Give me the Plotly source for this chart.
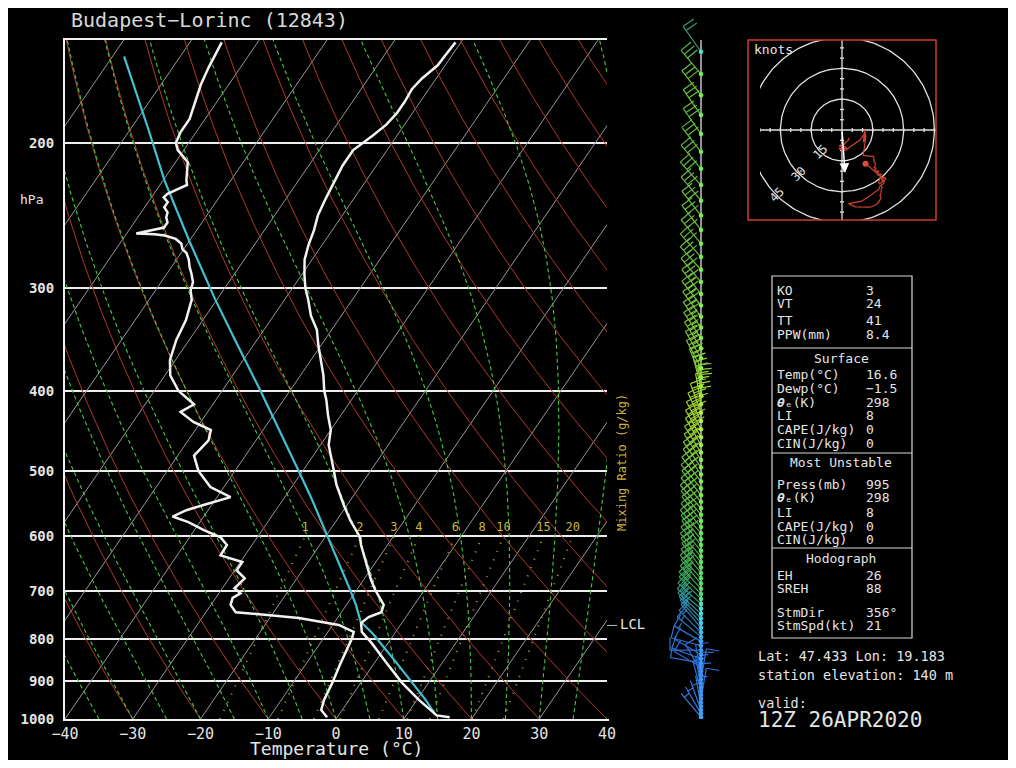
import math
import numpy as np
import plotly.graph_objects as go

# reference canvas is 1016x768; the page body adds an 8 px margin, so the figure is 1000x752
REF_W, REF_H = 1016, 768
OFF = 8
FW, FH = REF_W - 2 * OFF, REF_H - 2 * OFF

# ---------------- data ----------------
STATION = "Budapest\u2212Lorinc (12843)"

TEMP_P = [995, 990, 948, 904, 853, 809, 784, 765, 752, 742, 727, 708, 698, 678, 651,
          633, 615, 602, 590, 574, 550, 535, 520, 500, 485, 465, 446, 428, 410, 400,
          383, 367, 352, 337, 324, 310, 300, 289, 277, 266, 255, 245, 235, 225, 213,
          204, 200, 196, 190, 184, 178, 172, 167, 161, 157, 151]
TEMP_C = [16.6, 14.5, 10.3, 6.1, 1.6, -2.4, -5.0, -6.0, -5.5, -4.1, -4.5, -6.2, -7.2, -8.9, -11.0,
          -12.5, -13.9, -14.8, -16.1, -18.0, -20.5, -22.0, -23.6, -25.4, -26.8, -28.8, -30.0, -31.9, -33.7, -34.9,
          -36.6, -38.5, -40.4, -42.2, -44.5, -46.5, -48.1, -49.6, -51.1, -52.0, -52.7, -53.6, -54.1, -54.5, -55.0,
          -55.0, -54.3, -53.6, -52.7, -52.3, -52.3, -52.5, -52.1, -51.1, -51.0, -50.8]

DEWP_P = [995, 975, 948, 904, 860, 825, 798, 784, 769, 754, 746, 742, 727, 713, 704,
          694, 675, 660, 645, 633, 615, 602, 590, 577, 568, 558, 550, 538, 523, 500,
          479, 459, 446, 436, 424, 415, 400, 383, 367, 347, 328, 310, 302, 295, 288,
          283, 277, 272, 269, 265, 261.5, 259, 258.1, 257.5, 253.3, 249.7, 246.2, 242.8, 239.4, 236,
          232.8, 230.5, 224.9, 221.8, 211, 204, 200, 194, 187, 179, 170, 162, 155, 151]
DEWP_C = [-1.5, -3.1, -3.7, -4.2, -4.9, -5.4, -5.8, -6.2, -9.1, -15.7, -22.0, -25.6, -27.1, -27.5, -26.8,
          -28.2, -27.7, -29.7, -29.7, -33.6, -33.7, -35.4, -38.6, -41.7, -44.6, -43.2, -41.2, -38.0, -42.0, -45.4,
          -47.6, -47.0, -47.7, -51.1, -54.0, -52.8, -56.4, -59.2, -60.8, -61.9, -62.5, -63.7, -64.8, -65.3, -66.4,
          -67.3, -68.2, -69.2, -70.2, -70.9, -72.2, -74.2, -75.8, -78.6, -75.1, -75.1, -75.8, -76.1, -77.1, -77.1,
          -78.2, -78.0, -76.0, -76.6, -78.2, -80.9, -81.9, -82.3, -82.3, -83.1, -84.1, -84.7, -85.1, -85.3]

PARCEL_P = [989, 948, 852, 787, 762, 727, 698, 601, 542, 500, 446, 400, 347, 309, 263, 222, 193, 157]
PARCEL_C = [14.3, 11.3, 3.0, -3.3, -6.2, -8.6, -10.9, -19.6, -25.7, -30.6, -37.6, -44.3, -53.2, -60.4,
            -70.0, -79.8, -87.2, -98.3]

WIND_P = [995, 985, 975, 965, 955, 945, 935, 925, 915, 905,
          895, 885, 875, 865, 855, 845, 835, 825, 815, 805,
          795, 785, 775, 765, 755, 745, 735, 725, 715, 705,
          695, 685, 675, 665, 655, 645, 635, 625, 615, 605,
          595, 585, 575, 565, 555, 545, 535, 525, 515, 505,
          495, 485, 475, 465, 455, 445, 435, 425, 415, 405,
          395, 385, 375, 365, 355, 345, 335, 325, 315, 305,
          295, 285, 275, 265, 255, 245, 235, 225, 215, 205,
          195, 185, 175, 165, 155]
WIND_DIR = [320, 330, 340, 350, 0, 10, 355, 345, 350, 0,
            10, 350, 330, 300, 280, 290, 300, 270, 285, 300,
            310, 315, 320, 318, 315, 312, 310, 312, 315, 315,
            318, 320, 318, 320, 322, 320, 318, 320, 322, 320,
            318, 320, 322, 320, 318, 320, 322, 320, 322, 325,
            325, 327, 328, 330, 330, 332, 335, 340, 350, 355,
            345, 338, 332, 330, 328, 326, 325, 324, 322, 322,
            320, 318, 318, 320, 322, 322, 320, 318, 320, 322,
            325, 325, 322, 320, 325]
WIND_KT = [5, 6, 6, 7, 7, 8, 8, 9, 9, 10,
           9, 10, 9, 10, 11, 12, 12, 11, 12, 13,
           14, 15, 16, 17, 18, 19, 20, 21, 22, 23,
           24, 24, 25, 25, 26, 26, 27, 27, 28, 28,
           29, 29, 30, 30, 31, 31, 32, 32, 33, 33,
           34, 35, 36, 37, 38, 39, 40, 40, 38, 36,
           36, 35, 34, 34, 34, 33, 33, 33, 33, 33,
           32, 32, 31, 31, 32, 32, 31, 31, 30, 30,
           31, 32, 32, 30, 20]

P_TICKS = [1000, 900, 800, 700, 600, 500, 400, 300, 200]
T_TICKS = [-40, -30, -20, -10, 0, 10, 20, 30, 40]
MIXR_GKG = [1, 2, 3, 4, 6, 8, 10, 15, 20]
RING_KT = [15, 30, 45]
LCL_P = 770
STORM_DIR = 356
STORM_KT = 21

THETA_E = "<b><i>\u03b8</i></b>\u2091(K)"
IDX_LABELS = ["KO", "VT", "TT", "PPW(mm)"]
IDX_VALUES = ["3", "24", "41", "8.4"]
SFC_LABELS = ["Temp(\u00b0C)", "Dewp(\u00b0C)", THETA_E, "LI", "CAPE(J/kg)", "CIN(J/kg)"]
SFC_VALUES = ["16.6", "\u22121.5", "298", "8", "0", "0"]
MU_LABELS = ["Press(mb)", THETA_E, "LI", "CAPE(J/kg)", "CIN(J/kg)"]
MU_VALUES = ["995", "298", "8", "0", "0"]
HOD_LABELS = ["EH", "SREH", "StmDir", "StmSpd(kt)"]
HOD_VALUES = ["26", "88", "356\u00b0", "21"]
INFO_LINES = ["Lat: 47.433 Lon: 19.183", "station elevation: 140 m", "valid:"]
VALID_TIME = "12Z 26APR2020"

# ---------------- geometry / style ----------------
MONO = "DejaVu Sans Mono"
TXT = "#e4e4e4"
K_SKEW = 36.2                      # deg C per ln(p) unit of skew
P_TOP = 150.0
MAIN_X = (65, 607)                 # reference-pixel extents of the diagram
MAIN_Y = (40, 719)


def px(x):
    return (x - OFF) / FW


def py(y):
    return 1 - (y - OFF) / FH


def skew_x(t, p):
    return np.asarray(t, dtype=float) + K_SKEW * np.log(1000.0 / np.asarray(p, dtype=float))


fig = go.Figure()

p_grid = np.exp(np.linspace(np.log(1000.0), np.log(P_TOP), 171))

# isotherms
xs, ys = [], []
for t in range(-130, 50, 10):
    xs += list(skew_x([t, t], [1000, P_TOP])) + [None]
    ys += [1000, P_TOP, None]
fig.add_trace(go.Scatter(x=xs, y=ys, mode="lines", line=dict(color="#969696", width=1), hoverinfo="skip"))

# dry adiabats
xs, ys = [], []
for th in range(-50, 170, 10):
    tk = (th + 273.15) * (p_grid / 1000.0) ** 0.2857 - 273.15
    xs += list(skew_x(tk, p_grid)) + [None]
    ys += list(p_grid) + [None]
fig.add_trace(go.Scatter(x=xs, y=ys, mode="lines", line=dict(color="#b0382b", width=1), hoverinfo="skip"))


def moist_adiabat(t0, pg):
    rd, cp, lv, eps = 287.04, 1005.7, 2.501e6, 0.622

    def f(tk, p):
        tc = tk - 273.15
        es = 6.112 * math.exp(17.67 * tc / (tc + 243.5))
        rs = eps * es / (p - es)
        return (rd * tk + lv * rs) / (p * (cp + lv * lv * rs * eps / (rd * tk * tk)))

    tk = t0 + 273.15
    out = [tk]
    for i in range(1, len(pg)):
        p0, p1 = pg[i - 1], pg[i]
        dp = p1 - p0
        k1 = f(tk, p0)
        k2 = f(tk + 0.5 * dp * k1, p0 + 0.5 * dp)
        k3 = f(tk + 0.5 * dp * k2, p0 + 0.5 * dp)
        k4 = f(tk + dp * k3, p1)
        tk = tk + dp * (k1 + 2 * k2 + 2 * k3 + k4) / 6.0
        out.append(tk)
    return np.array(out) - 273.15


# moist adiabats
xs, ys = [], []
for t0 in range(-40, 45, 5):
    tm = moist_adiabat(t0, p_grid)
    xs += list(skew_x(tm, p_grid)) + [None]
    ys += list(p_grid) + [None]
fig.add_trace(go.Scatter(x=xs, y=ys, mode="lines",
                         line=dict(color="#44c844", width=1.1, dash="4px,3px"), hoverinfo="skip"))


def td_from_w(w, p):
    e = w * np.asarray(p, dtype=float) / (622.0 + w)
    a = np.log(e / 6.112)
    return 243.5 * a / (17.67 - a)


# mixing ratio lines
p_mix = np.linspace(1000, 600, 41)
xs, ys = [], []
for w in MIXR_GKG:
    xs += list(skew_x(td_from_w(w, p_mix), p_mix)) + [None]
    ys += list(p_mix) + [None]
fig.add_trace(go.Scatter(x=xs, y=ys, mode="lines",
                         line=dict(color="#aa9a2a", width=2, dash="1px,8px"), hoverinfo="skip"))
fig.add_trace(go.Scatter(
    x=[float(skew_x(td_from_w(w, 600), 600)) for w in MIXR_GKG], y=[586] * len(MIXR_GKG),
    mode="text", text=[str(w) for w in MIXR_GKG], cliponaxis=False,
    textfont=dict(family=MONO, size=12, color="#ccb63c"), hoverinfo="skip"))

# profiles
fig.add_trace(go.Scatter(x=skew_x(PARCEL_C, PARCEL_P), y=PARCEL_P, mode="lines",
                         line=dict(color="#45bfcf", width=2.2), hoverinfo="skip"))
fig.add_trace(go.Scatter(x=skew_x(DEWP_C, DEWP_P), y=DEWP_P, mode="lines",
                         line=dict(color="#f2f2f2", width=2.5), hoverinfo="skip"))
fig.add_trace(go.Scatter(x=skew_x(TEMP_C, TEMP_P), y=TEMP_P, mode="lines",
                         line=dict(color="#f2f2f2", width=2.5), hoverinfo="skip"))

# ---------------- wind barbs column (x3 / y3, x in reference pixels) ----------------
BARB_X = 701
Y3_SPAN_PX = MAIN_Y[1] - OFF
Y3_TOP = 3 - (3 - math.log10(P_TOP)) * Y3_SPAN_PX / (MAIN_Y[1] - MAIN_Y[0])
PX_PER_DEC = Y3_SPAN_PX / (3 - Y3_TOP)


def hex2rgb(h):
    return [int(h[i:i + 2], 16) for i in (1, 3, 5)]


def ramp(stops, v):
    if v <= stops[0][0]:
        return stops[0][1]
    for (v0, c0), (v1, c1) in zip(stops[:-1], stops[1:]):
        if v <= v1:
            f = (v - v0) / (v1 - v0)
            a, b = hex2rgb(c0), hex2rgb(c1)
            return "rgb(%d,%d,%d)" % tuple(round(a[i] + f * (b[i] - a[i])) for i in range(3))
    return stops[-1][1]


BARB_STOPS = [(0, "#3f8fe0"), (10, "#2e6ad6"), (15, "#2a7cc4"), (19, "#2f9a96"),
              (22, "#3a9e5a"), (27, "#4eae4a"), (32, "#68c040"), (38, "#a2d232")]
DOT_STOPS = [(0, "#48b8f0"), (10, "#3a90f0"), (17, "#40d0f0"), (20, "#44e6d8"),
             (23, "#50e070"), (28, "#58f050"), (34, "#88f040"), (40, "#b4f040")]

fig.add_trace(go.Scatter(x=[BARB_X, BARB_X], y=[1000, P_TOP], xaxis="x3", yaxis="y3", mode="lines",
                         line=dict(color="#c4c4c4", width=1.5), hoverinfo="skip"))


def pt(p, dx, dy):
    return BARB_X + dx, 10 ** (math.log10(p) - dy / PX_PER_DEC)


STAFF, GAP, FEATH = 31.0, 5.0, 13.0
for p, d, s in zip(WIND_P, WIND_DIR, WIND_KT):
    sx, sy = math.sin(math.radians(d)), math.cos(math.radians(d))
    fx, fy = sy, -sx
    bx, by = [], []
    x0, y0 = pt(p, 0, 0)
    x1, y1 = pt(p, STAFF * sx, STAFF * sy)
    bx += [x0, x1, None]
    by += [y0, y1, None]
    r = int(round(s / 5.0)) * 5
    n10, n5 = r // 10, (r % 10) // 5
    pos = STAFF
    for k in range(n10):
        a = pt(p, pos * sx, pos * sy)
        b = pt(p, pos * sx + FEATH * fx, pos * sy + FEATH * fy)
        bx += [a[0], b[0], None]
        by += [a[1], b[1], None]
        pos -= GAP
    if n5:
        if n10 == 0:
            pos -= GAP
        a = pt(p, pos * sx, pos * sy)
        b = pt(p, pos * sx + FEATH * 0.5 * fx, pos * sy + FEATH * 0.5 * fy)
        bx += [a[0], b[0], None]
        by += [a[1], b[1], None]
    fig.add_trace(go.Scatter(x=bx, y=by, xaxis="x3", yaxis="y3", mode="lines",
                             line=dict(color=ramp(BARB_STOPS, s), width=1.2), hoverinfo="skip"))

fig.add_trace(go.Scatter(x=[BARB_X] * len(WIND_P), y=WIND_P, xaxis="x3", yaxis="y3", mode="markers",
                         marker=dict(size=4.5, color=[ramp(DOT_STOPS, s) for s in WIND_KT]),
                         hoverinfo="skip"))

# LCL marker
fig.add_trace(go.Scatter(x=[MAIN_X[1], MAIN_X[1] + 10], y=[LCL_P, LCL_P], xaxis="x3", yaxis="y3",
                         mode="lines", line=dict(color="#bbbbbb", width=1), hoverinfo="skip"))
fig.add_trace(go.Scatter(x=[MAIN_X[1] + 13], y=[LCL_P], xaxis="x3", yaxis="y3", mode="text",
                         text=["LCL"], textposition="middle right", cliponaxis=False,
                         textfont=dict(family=MONO, size=14, color=TXT), hoverinfo="skip"))

# ---------------- hodograph (x2 / y2, knots) ----------------
HB = (748, 936, 40, 220)
KT_PER_PX = 15 / 30.8
HXR = (HB[1] - HB[0]) / 2 * KT_PER_PX
HYR = (HB[3] - HB[2]) / 2 * KT_PER_PX

ang = np.linspace(0, 2 * np.pi, 181)
xs, ys = [], []
for r in RING_KT:
    xs += list(r * np.cos(ang)) + [None]
    ys += list(r * np.sin(ang)) + [None]
xs += [-HXR, HXR, None, 0, 0, None]
ys += [0, 0, None, -HYR, HYR, None]
for k in range(-45, 50, 5):
    if k == 0:
        continue
    xs += [k, k, None, -1.0, 1.0, None]
    ys += [-1.0, 1.0, None, k, k, None]
fig.add_trace(go.Scatter(x=xs, y=ys, xaxis="x2", yaxis="y2", mode="lines",
                         line=dict(color="#e0e0e0", width=1.3), hoverinfo="skip"))

u = [-s * math.sin(math.radians(d)) for d, s in zip(WIND_DIR, WIND_KT)]
v = [-s * math.cos(math.radians(d)) for d, s in zip(WIND_DIR, WIND_KT)]
fig.add_trace(go.Scatter(x=u, y=v, xaxis="x2", yaxis="y2", mode="lines",
                         line=dict(color="#d0402f", width=1.2), hoverinfo="skip"))
fig.add_trace(go.Scatter(x=[u[-1]], y=[v[-1]], xaxis="x2", yaxis="y2", mode="markers",
                         marker=dict(color="#e04a3a", size=6), hoverinfo="skip"))

su = -STORM_KT * math.sin(math.radians(STORM_DIR))
sv = -STORM_KT * math.cos(math.radians(STORM_DIR))

annotations = [
    dict(x=su, y=sv, ax=0, ay=0, xref="x2", yref="y2", axref="x2", ayref="y2", text="",
         showarrow=True, arrowhead=2, arrowsize=1.3, arrowwidth=1.5, arrowcolor="#ffffff"),
]
for r in RING_KT:
    annotations.append(dict(x=-r * math.sqrt(0.5), y=-r * math.sqrt(0.5), xref="x2", yref="y2",
                            text=str(r), showarrow=False, textangle=-45,
                            font=dict(family=MONO, size=12, color=TXT)))


def ann(xr, yr, text, size=14, color=TXT, xanchor="left", family=MONO, **kw):
    d = dict(x=px(xr), y=py(yr), xref="paper", yref="paper", text=text, showarrow=False,
             xanchor=xanchor, yanchor="middle", borderpad=0,
             font=dict(family=family, size=size, color=color))
    d.update(kw)
    return d


annotations.append(ann(753, 49, "knots", 13))
annotations.append(ann(70, 20, STATION, 20, "#d8d8d8"))
annotations.append(ann(31, 200, "hPa", 13, xanchor="center"))
annotations.append(ann(622, 463, "Mixing Ratio (g/kg)", 12, "#c8b23a", xanchor="center", textangle=-90))
annotations.append(ann(336, 748, "Temperature (\u00b0C)", 18, xanchor="center"))

LX, VX = 776, 865
TS = 13
for lab, val, yy in zip(IDX_LABELS, IDX_VALUES, [290, 303, 320, 334]):
    annotations += [ann(LX, yy, lab, TS), ann(VX, yy, val, TS)]
annotations.append(ann(841, 358, "Surface", TS, xanchor="center"))
for lab, val, yy in zip(SFC_LABELS, SFC_VALUES, [375, 388, 402, 415, 429, 443]):
    annotations += [ann(LX, yy, lab, TS), ann(VX, yy, val, TS)]
annotations.append(ann(841, 462, "Most Unstable", TS, xanchor="center"))
for lab, val, yy in zip(MU_LABELS, MU_VALUES, [484, 498, 512, 526, 539]):
    annotations += [ann(LX, yy, lab, TS), ann(VX, yy, val, TS)]
annotations.append(ann(841, 558, "Hodograph", TS, xanchor="center"))
for lab, val, yy in zip(HOD_LABELS, HOD_VALUES, [575, 588, 612, 625]):
    annotations += [ann(LX, yy, lab, TS), ann(VX, yy, val, TS)]

for txt, yy in zip(INFO_LINES, [656, 675, 703]):
    annotations.append(ann(757, yy, txt, 13.5))
annotations.append(ann(757, 720, VALID_TIME, 21))


def pshape(x0, y0, x1, y1, color, width=1.2, kind="line"):
    return dict(type=kind, xref="paper", yref="paper", x0=px(x0), x1=px(x1), y0=py(y0), y1=py(y1),
                line=dict(color=color, width=width))


shapes = [pshape(HB[0], HB[2], HB[1], HB[3], "#d03a30", 1.5, "rect"),
          pshape(772, 276, 912, 638, "#d8d8d8", 1.2, "rect")]
for yy in [348, 453, 548]:
    shapes.append(pshape(772, yy, 912, yy, "#d8d8d8", 1.2))

fig.update_layout(
    width=FW, height=FH, margin=dict(l=0, r=0, t=0, b=0, pad=0),
    paper_bgcolor="black", plot_bgcolor="black", showlegend=False,
    annotations=annotations, shapes=shapes,
    xaxis=dict(domain=[px(MAIN_X[0]), px(MAIN_X[1])], range=[-40, 40], anchor="y",
               tickvals=T_TICKS, ticktext=[("\u2212%d" % -t) if t < 0 else str(t) for t in T_TICKS],
               showgrid=False, zeroline=False, showline=True, mirror=True, linecolor="#f0f0f0",
               linewidth=2, ticks="", ticklabelstandoff=0, automargin=False,
               tickfont=dict(family=MONO, size=15, color=TXT)),
    yaxis=dict(domain=[py(MAIN_Y[1]), py(MAIN_Y[0])], type="log",
               range=[3, math.log10(P_TOP)], anchor="x",
               tickvals=P_TICKS, ticktext=[str(p) for p in P_TICKS],
               showgrid=True, gridcolor="#eeeeee", gridwidth=2, zeroline=False,
               showline=True, mirror=True, linecolor="#f0f0f0", linewidth=2, ticks="",
               ticklabelstandoff=6, automargin=False,
               tickfont=dict(family=MONO, size=14, color=TXT, weight="bold")),
    xaxis2=dict(domain=[px(HB[0]), px(HB[1])], range=[-HXR, HXR], visible=False, anchor="y2"),
    yaxis2=dict(domain=[py(HB[3]), py(HB[2])], range=[-HYR, HYR], visible=False, anchor="x2"),
    xaxis3=dict(domain=[px(MAIN_X[1]), px(760)], range=[MAIN_X[1], 760], visible=False, anchor="y3"),
    yaxis3=dict(domain=[py(MAIN_Y[1]), 1], type="log", range=[3, Y3_TOP], visible=False, anchor="x3"),
)

fig.write_html("out.html")
